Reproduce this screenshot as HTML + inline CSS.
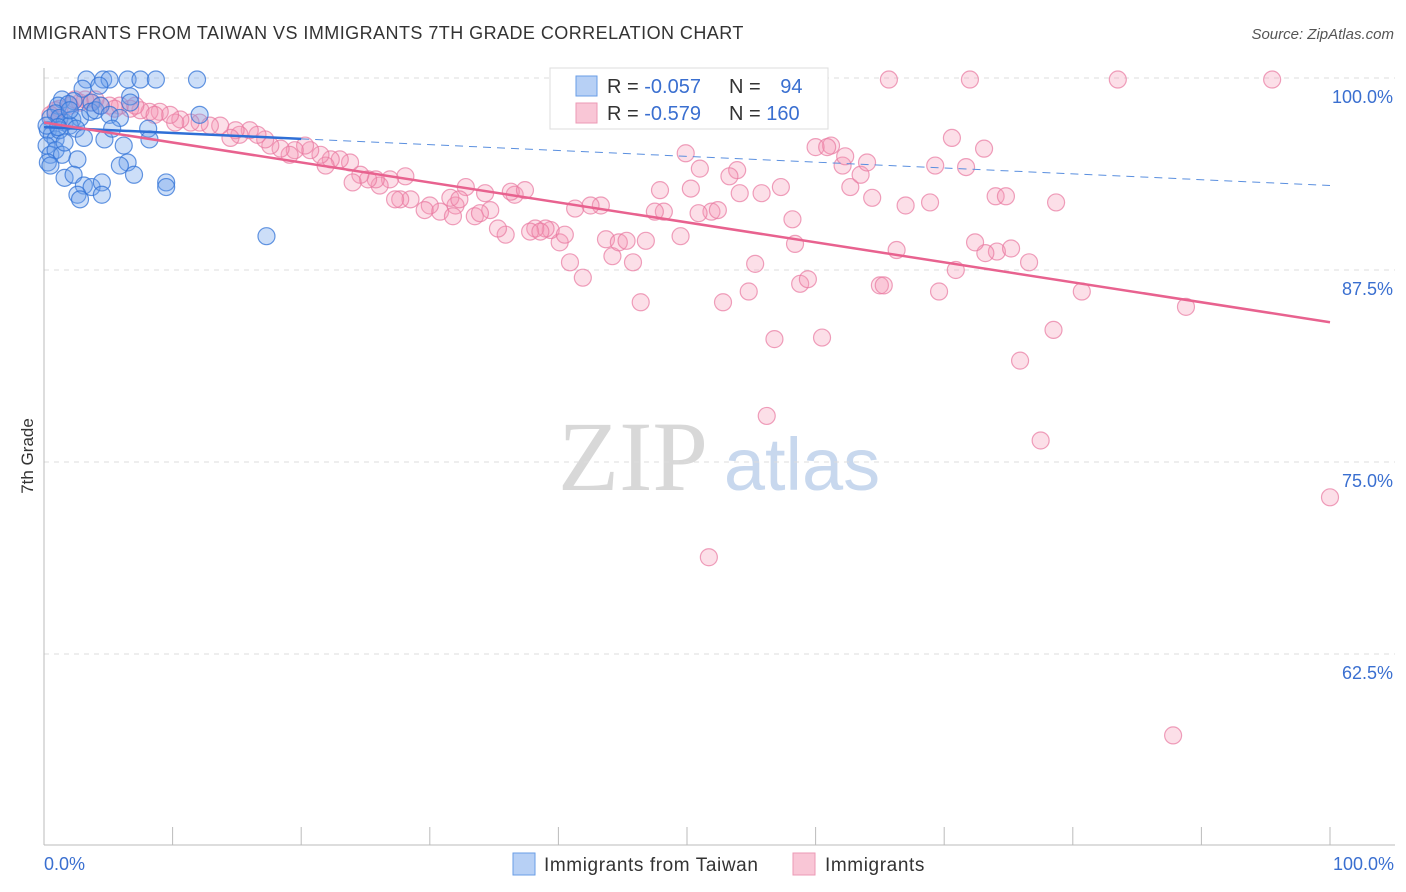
<!DOCTYPE html>
<html><head><meta charset="utf-8"><style>
body{margin:0;background:#fff;font-family:"Liberation Sans",sans-serif;}
</style></head><body>
<svg id="chart" width="1406" height="892" xmlns="http://www.w3.org/2000/svg" style="display:block">
<text x="12" y="39" font-size="18" fill="#333" letter-spacing="0.45">IMMIGRANTS FROM TAIWAN VS IMMIGRANTS 7TH GRADE CORRELATION CHART</text>
<text x="1394" y="39" font-size="15" fill="#555" font-style="italic" text-anchor="end">Source: ZipAtlas.com</text>
<g>
<text x="633" y="490" font-size="100" font-family="Liberation Serif,serif" fill="#d8d8d8" text-anchor="middle">ZIP</text>
<text x="802" y="490" font-size="74" fill="#c8d8ee" text-anchor="middle">atlas</text>
</g>
<g id="grid"></g>
<g id="axes"></g>
<g id="marks"></g>
<text transform="translate(33,456) rotate(-90)" font-size="17" fill="#333" text-anchor="middle">7th Grade</text>
<g>
<rect x="550" y="68" width="278" height="61" fill="#fff" stroke="#ddd"/>
<rect x="576" y="76" width="21" height="20" fill="#b7d0f5" stroke="#6a9ee6"/>
<rect x="576" y="103" width="21" height="20" fill="#f9c6d6" stroke="#ec9ab5"/>
<text x="607" y="93" font-size="20" fill="#333">R = <tspan fill="#3a6fd0">-0.057</tspan></text>
<text x="729" y="93" font-size="20" fill="#333">N = <tspan fill="#3a6fd0" dx="14">94</tspan></text>
<text x="607" y="120" font-size="20" fill="#333">R = <tspan fill="#3a6fd0">-0.579</tspan></text>
<text x="729" y="120" font-size="20" fill="#333">N = <tspan fill="#3a6fd0">160</tspan></text>
</g>
<g>
<rect x="513" y="853" width="22" height="22" fill="#b7d0f5" stroke="#6a9ee6"/>
<text x="544" y="871" font-size="19" fill="#333" letter-spacing="0.6">Immigrants from Taiwan</text>
<rect x="793" y="853" width="22" height="22" fill="#f9c6d6" stroke="#ec9ab5"/>
<text x="825" y="871" font-size="19" fill="#333" letter-spacing="0.6">Immigrants</text>
</g>
</svg>
<script>
const yTicks=[100,87.5,75,62.5];
const yTickLabels=["100.0%","87.5%","75.0%","62.5%"];
const xTickLabels=["0.0%","100.0%"];
const blueX=[3.3,4.6,5.1,6.5,7.5,8.7,11.9,3.0,4.3,6.7,6.7,1.4,2.3,3.7,1.1,1.9,0.5,0.9,1.2,1.6,2.2,2.8,3.6,4.0,4.4,5.1,5.9,8.1,8.2,12.1,0.3,0.6,0.9,0.2,0.5,0.9,1.4,2.0,2.5,3.1,4.7,5.3,6.2,6.5,2.6,1.6,2.3,3.1,3.7,4.5,2.6,2.8,4.5,5.9,7.0,9.5,9.5,0.3,0.5,17.3,1.2,1.6,0.2,1.1,2.0];
const blueY=[99.9,99.9,99.9,99.9,99.9,99.9,99.9,99.3,99.5,98.8,98.4,98.6,98.5,98.4,98.2,98.3,97.4,97.7,97.4,97.1,97.3,97.4,97.8,97.9,98.2,97.6,97.4,96.7,96.0,97.6,96.6,96.3,96.0,95.6,95.0,95.3,95.0,96.9,96.7,96.1,96.0,96.7,95.6,94.5,94.7,93.5,93.7,93.0,92.9,93.2,92.4,92.1,92.4,94.3,93.7,93.2,92.9,94.5,94.3,89.7,96.6,95.8,96.9,96.8,97.9];
const pinkX=[65.7,72.0,83.5,95.5,100.0,51.7,87.8,77.5,56.2,75.9,78.5,56.8,60.5,88.8,80.7,46.4,52.8,54.8,58.8,59.4,65.0,65.3,69.6,70.9,66.3,76.6,74.1,73.2,75.2,72.4,78.7,74.0,74.8,71.7,69.3,73.1,70.6,68.9,67.0,64.4,62.7,63.5,64.0,62.1,62.3,61.2,60.0,60.9,58.2,58.4,57.3,55.8,55.3,53.9,54.1,53.3,51.9,52.4,50.9,50.3,51.0,49.9,47.9,48.2,47.5,49.5,46.8,45.8,44.2,43.7,44.7,45.3,41.9,40.9,40.1,39.4,39.0,38.2,37.8,35.9,35.3,34.7,36.6,36.3,37.4,34.3,33.5,33.9,32.8,32.0,30.8,31.6,30.0,29.6,28.5,27.7,27.3,28.1,26.9,26.1,25.8,25.2,24.6,24.0,23.8,23.0,22.3,21.9,21.5,20.7,20.3,19.5,19.1,18.4,17.6,17.2,16.6,16.0,15.2,14.9,14.5,13.7,12.9,12.1,11.4,10.6,10.2,9.8,9.0,8.2,7.5,6.7,5.9,5.1,4.4,3.6,2.8,2.0,1.2,0.9,0.5,1.2,2.4,3.2,4.0,5.5,7.1,8.6,43.3,42.5,41.3,40.5,38.6,31.8,32.3];
const pinkY=[99.9,99.9,99.9,99.9,72.7,68.8,57.2,76.4,78.0,81.6,83.6,83.0,83.1,85.1,86.1,85.4,85.4,86.1,86.6,86.9,86.5,86.5,86.1,87.5,88.8,88.0,88.7,88.6,88.9,89.3,91.9,92.3,92.3,94.2,94.3,95.4,96.1,91.9,91.7,92.2,92.9,93.7,94.5,94.3,94.9,95.6,95.5,95.5,90.8,89.2,92.9,92.5,87.9,94.0,92.5,93.6,91.3,91.4,91.2,92.8,94.1,95.1,92.7,91.3,91.3,89.7,89.4,88.0,88.4,89.5,89.3,89.4,87.0,88.0,89.3,90.1,90.2,90.2,90.0,89.8,90.2,91.4,92.4,92.6,92.7,92.5,91.0,91.2,92.9,91.7,91.3,92.2,91.7,91.4,92.1,92.1,92.1,93.6,93.4,93.0,93.4,93.4,93.7,93.2,94.5,94.7,94.7,94.3,95.0,95.3,95.6,95.3,95.0,95.4,95.6,96.0,96.3,96.6,96.3,96.6,96.1,96.9,96.9,97.1,97.1,97.3,97.1,97.6,97.8,97.8,97.9,98.0,98.2,98.2,98.2,98.4,98.4,98.2,98.0,97.9,97.6,97.3,98.6,98.6,98.6,98.0,98.2,97.6,91.7,91.7,91.5,89.8,90.0,91.0,92.1];
const blueTrend=[96.8,93.0];
const pinkTrend=[97.1,84.1];

const NS="http://www.w3.org/2000/svg";
const X0=44,X1=1330,YTOP=78,PXPER=192/12.5;
function sx(v){return X0+(X1-X0)*v/100;}
function sy(v){return YTOP+(100-v)*PXPER;}
function mk(tag,attrs,parent){const e=document.createElementNS(NS,tag);for(const k in attrs)e.setAttribute(k,attrs[k]);parent.appendChild(e);return e;}
const grid=document.getElementById('grid'),axes=document.getElementById('axes'),marks=document.getElementById('marks');
yTicks.forEach((t,i)=>{
  const l=mk('line',{x1:44,x2:1395,y1:sy(t),y2:sy(t),stroke:'#ddd','stroke-dasharray':'5,5'},grid);
  
  
  const tx=mk('text',{x:1393,y:sy(t)+25,'font-size':18,fill:'#3a6fd0','text-anchor':'end'},axes);
  tx.textContent=yTickLabels[i];
  
  
});
const ax=mk('line',{x1:44,x2:44,y1:68,y2:845,stroke:'#bbb'},axes);


const bx=mk('line',{x1:44,x2:1395,y1:845,y2:845,stroke:'#bbb'},axes);


for(let i=0;i<=10;i++){
  const t=mk('line',{x1:sx(i*10),x2:sx(i*10),y1:827,y2:845,stroke:'#bbb'},axes);
  
  
}
[[0,'start',44],[1,'end',1394]].forEach(([i,a,x])=>{
  const t=mk('text',{x:x,y:870,'font-size':18,fill:'#3a6fd0','text-anchor':a},axes);
  t.textContent=xTickLabels[i];
  
  
});
pinkX.forEach((v,i)=>{
  const c=mk('circle',{cx:sx(v),cy:sy(pinkY[i]),r:8.5,fill:'rgba(244,150,180,0.3)',stroke:'rgba(232,120,160,0.7)','stroke-width':1.2},marks);
  
  
});
blueX.forEach((v,i)=>{
  const c=mk('circle',{cx:sx(v),cy:sy(blueY[i]),r:8.5,fill:'rgba(110,160,235,0.35)',stroke:'rgba(50,115,215,0.75)','stroke-width':1.2},marks);
  
  
});
const bSolidEnd=20;
const bMid=blueTrend[0]+(blueTrend[1]-blueTrend[0])*bSolidEnd/100;
const bl=mk('line',{x1:sx(0),y1:sy(blueTrend[0]),x2:sx(bSolidEnd),y2:sy(bMid),stroke:'#2f6fd6','stroke-width':2.5},marks);


const bd=mk('line',{x1:sx(bSolidEnd),y1:sy(bMid),x2:sx(100),y2:sy(blueTrend[1]),stroke:'#5a8fdf','stroke-width':1,'stroke-dasharray':'8,6'},marks);


const pl=mk('line',{x1:sx(0),y1:sy(pinkTrend[0]),x2:sx(100),y2:sy(pinkTrend[1]),stroke:'#e8628f','stroke-width':2.5},marks);


</script>
</body></html>
